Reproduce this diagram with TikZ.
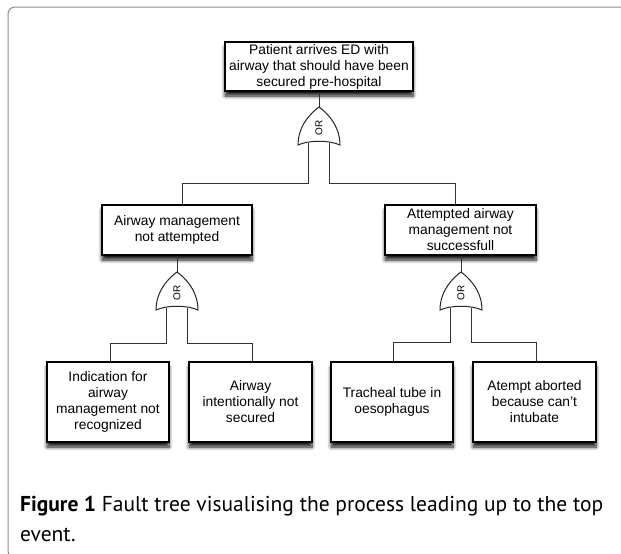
\documentclass[tikz,border=0pt]{standalone}
\usepackage{fontspec}
\setmainfont{Liberation Sans}
\newfontfamily\capfont{PT Sans}
\usetikzlibrary{shadows.blur}
\begin{document}
\begin{tikzpicture}[x=1pt,y=-1pt,
  evbox/.style={draw=black, line width=1.1pt, fill=white, align=center,
    inner sep=0pt, font=\fontsize{13.8}{16}\selectfont,
    blur shadow={shadow xshift=0pt, shadow yshift=-5pt, shadow blur radius=3.5pt, shadow blur steps=8, shadow opacity=90}},
  wire/.style={draw=black!80, line width=0.9pt},
  gatepath/.style={draw=black!85, line width=1pt, fill=white},
  capstyle/.style={anchor=base west, inner sep=0pt, font=\capfont\fontsize{21.5}{26}\selectfont},
  pics/orgate/.style={code={
    \path[gatepath] (0,0) .. controls (-7,5) and (-21,18) .. (-21,38)
      .. controls (-10,33) and (10,33) .. (21,38)
      .. controls (21,18) and (7,5) .. (0,0) -- cycle;
    \node[rotate=90, font=\fontsize{10}{11}\selectfont] at (0,21) {OR};
  }}
]
\useasboundingbox (0,0) rectangle (621,554);
% frame
\draw[black!45, line width=1pt, rounded corners=7pt] (40,558) -- (8,558) -- (8,7) -- (640,7);

% events
\node[evbox, minimum width=188pt, minimum height=49pt] (top) at (319,66.5)
  {Patient arrives ED with\\airway that should have been\\secured pre-hospital};
\node[evbox, minimum width=150pt, minimum height=50pt] (ml) at (177,230)
  {Airway management\\not attempted};
\node[evbox, minimum width=151pt, minimum height=50pt] (mr) at (460.5,230)
  {Attempted airway\\management not\\successfull};
\node[evbox, minimum width=122pt, minimum height=80pt] (b1) at (108,402)
  {Indication for\\airway\\management not\\recognized};
\node[evbox, minimum width=123pt, minimum height=80pt] (b2) at (250.5,402)
  {Airway\\intentionally not\\secured};
\node[evbox, minimum width=122pt, minimum height=80pt] (b3) at (392,402)
  {Tracheal tube in\\oesophagus};
\node[evbox, minimum width=123pt, minimum height=80pt] (b4) at (534.5,402)
  {Atempt aborted\\because can't\\intubate};

% gates (apex coordinates and input points)
\coordinate (g1) at (319,107);
\coordinate (g1a) at (308.5,143);
\coordinate (g1b) at (329.5,143);
\coordinate (g2) at (177,272);
\coordinate (g2a) at (166.5,308);
\coordinate (g2b) at (187.5,308);
\coordinate (g3) at (461,272);
\coordinate (g3a) at (450.5,308);
\coordinate (g3b) at (471.5,308);

% connectors
\draw[wire] (top.south -| g1) -- (g1);
\draw[wire] (g1a) -- (g1a |- 0,183) -| (ml.north -| 182,0);
\draw[wire] (g1b) -- (g1b |- 0,183) -| (mr.north -| 455,0);
\draw[wire] (ml.south -| g2) -- (g2);
\draw[wire] (g2a) -- (g2a |- 0,343) -| (b1.north -| 110,0);
\draw[wire] (g2b) -- (g2b |- 0,343) -| (b2.north -| 252,0);
\draw[wire] (mr.south -| g3) -- (g3);
\draw[wire] (g3a) -- (g3a |- 0,342) -| (b3.north -| 393,0);
\draw[wire] (g3b) -- (g3b |- 0,342) -| (b4.north -| 536,0);

\pic at (g1) {orgate};
\pic at (g2) {orgate};
\pic at (g3) {orgate};

% caption
\node[capstyle] (cap1) at (20,511)
  {\textbf{Figure 1} Fault tree visualising the process leading up to the top};
\node[capstyle] (cap2) at (20,541) {event.};
\end{tikzpicture}
\end{document}
